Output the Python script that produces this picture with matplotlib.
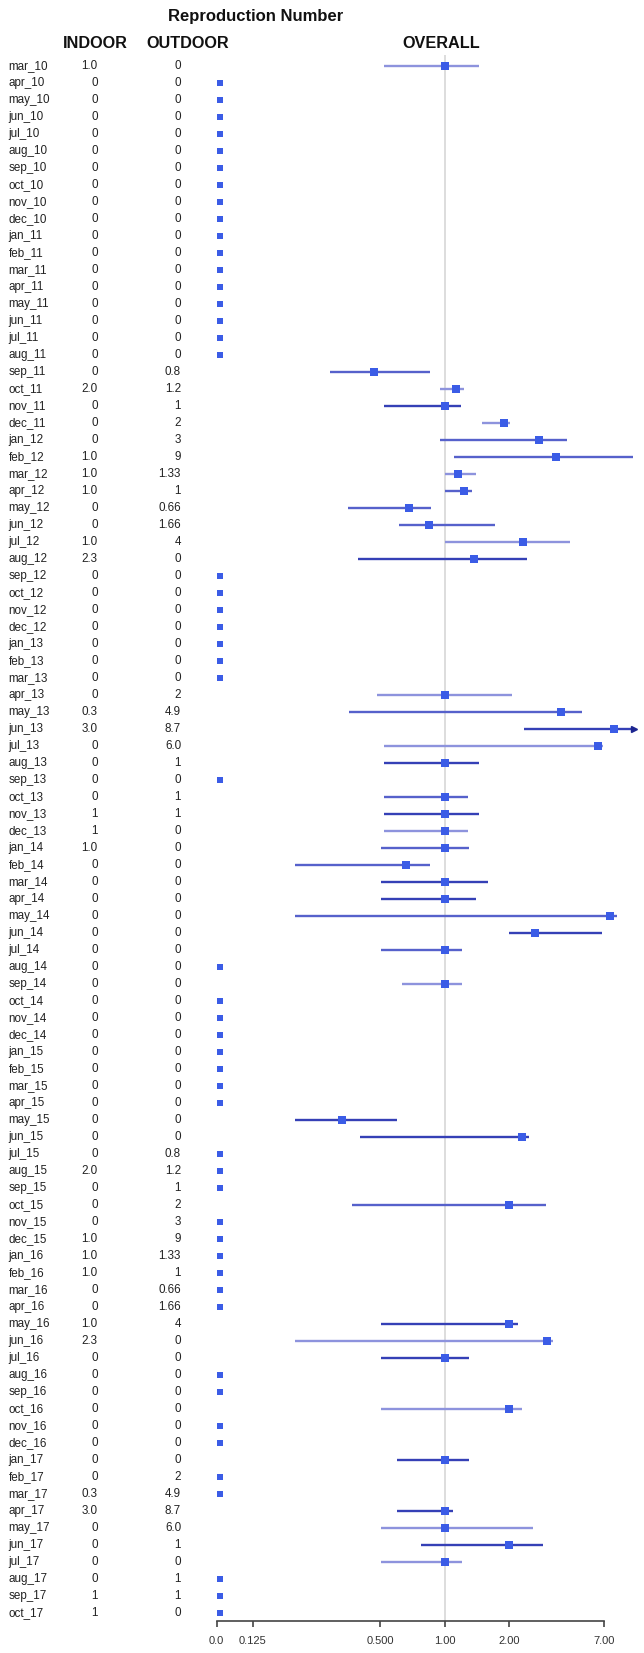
import matplotlib
matplotlib.use("Agg")
import matplotlib.pyplot as plt
import numpy as np
from matplotlib import font_manager
from matplotlib.transforms import blended_transform_factory

W, H = 644, 1653

MONTHS = [
    "mar_10", "apr_10", "may_10", "jun_10", "jul_10", "aug_10", "sep_10", "oct_10", "nov_10", "dec_10",
    "jan_11", "feb_11", "mar_11", "apr_11", "may_11", "jun_11", "jul_11", "aug_11", "sep_11", "oct_11", "nov_11", "dec_11",
    "jan_12", "feb_12", "mar_12", "apr_12", "may_12", "jun_12", "jul_12", "aug_12", "sep_12", "oct_12", "nov_12", "dec_12",
    "jan_13", "feb_13", "mar_13", "apr_13", "may_13", "jun_13", "jul_13", "aug_13", "sep_13", "oct_13", "nov_13", "dec_13",
    "jan_14", "feb_14", "mar_14", "apr_14", "may_14", "jun_14", "jul_14", "aug_14", "sep_14", "oct_14", "nov_14", "dec_14",
    "jan_15", "feb_15", "mar_15", "apr_15", "may_15", "jun_15", "jul_15", "aug_15", "sep_15", "oct_15", "nov_15", "dec_15",
    "jan_16", "feb_16", "mar_16", "apr_16", "may_16", "jun_16", "jul_16", "aug_16", "sep_16", "oct_16", "nov_16", "dec_16",
    "jan_17", "feb_17", "mar_17", "apr_17", "may_17", "jun_17", "jul_17", "aug_17", "sep_17", "oct_17",
]

INDOOR = [
    "1.0", "0", "0", "0", "0", "0", "0", "0", "0", "0",
    "0", "0", "0", "0", "0", "0", "0", "0", "0", "2.0", "0", "0",
    "0", "1.0", "1.0", "1.0", "0", "0", "1.0", "2.3", "0", "0", "0", "0",
    "0", "0", "0", "0", "0.3", "3.0", "0", "0", "0", "0", "1", "1",
    "1.0", "0", "0", "0", "0", "0", "0", "0", "0", "0", "0", "0",
    "0", "0", "0", "0", "0", "0", "0", "2.0", "0", "0", "0", "1.0",
    "1.0", "1.0", "0", "0", "1.0", "2.3", "0", "0", "0", "0", "0", "0",
    "0", "0", "0.3", "3.0", "0", "0", "0", "0", "1", "1",
]

OUTDOOR = [
    "0", "0", "0", "0", "0", "0", "0", "0", "0", "0",
    "0", "0", "0", "0", "0", "0", "0", "0", "0.8", "1.2", "1", "2",
    "3", "9", "1.33", "1", "0.66", "1.66", "4", "0", "0", "0", "0", "0",
    "0", "0", "0", "2", "4.9", "8.7", "6.0", "1", "0", "1", "1", "0",
    "0", "0", "0", "0", "0", "0", "0", "0", "0", "0", "0", "0",
    "0", "0", "0", "0", "0", "0", "0.8", "1.2", "1", "2", "3", "9",
    "1.33", "1", "0.66", "1.66", "4", "0", "0", "0", "0", "0", "0", "0",
    "0", "2", "4.9", "8.7", "6.0", "1", "0", "1", "1", "0",
]

nan = np.nan
# overall estimate with lower / upper interval (0 = no estimate, drawn at the 0.0 mark)
OVERALL = [
    1.0, 0, 0, 0, 0, 0, 0, 0, 0, 0,
    0, 0, 0, 0, 0, 0, 0, 0, 0.466, 1.13, 1.0, 1.90,
    2.78, 3.34, 1.16, 1.23, 0.68, 0.845, 2.34, 1.38, 0, 0, 0, 0,
    0, 0, 0, 1.0, 3.53, 6.27, 5.27, 1.0, 0, 1.0, 1.0, 1.0,
    1.0, 0.66, 1.0, 1.0, 6.0, 2.65, 1.0, 0, 1.0, 0, 0, 0,
    0, 0, 0, 0, 0.328, 2.32, 0, 0, 0, 2.0, 0, 0,
    0, 0, 0, 0, 2.0, 3.03, 1.0, 0, 0, 2.0, 0, 0,
    1.0, 0, 0, 1.0, 1.0, 2.0, 1.0, 0, 0, 0,
]
LOWER = [
    0.52, nan, nan, nan, nan, nan, nan, nan, nan, nan,
    nan, nan, nan, nan, nan, nan, nan, nan, 0.289, 0.95, 0.52, 1.50,
    0.95, 1.11, 1.0, 1.0, 0.35, 0.61, 1.0, 0.39, nan, nan, nan, nan,
    nan, nan, nan, 0.48, 0.355, 2.35, 0.52, 0.52, nan, 0.52, 0.52, 0.52,
    0.50, 0.198, 0.50, 0.50, 0.198, 2.0, 0.50, nan, 0.63, nan, nan, nan,
    nan, nan, nan, nan, 0.198, 0.40, nan, nan, nan, 0.366, nan, nan,
    nan, nan, nan, nan, 0.50, 0.198, 0.50, nan, nan, 0.50, nan, nan,
    0.594, nan, nan, 0.594, 0.50, 0.773, 0.50, nan, nan, nan,
]
UPPER = [
    1.45, nan, nan, nan, nan, nan, nan, nan, nan, nan,
    nan, nan, nan, nan, nan, nan, nan, nan, 0.852, 1.23, 1.19, 2.02,
    3.75, 7.7, 1.40, 1.35, 0.86, 1.72, 3.90, 2.44, nan, nan, nan, nan,
    nan, nan, nan, 2.07, 4.41, 12.0, 5.56, 1.45, nan, 1.29, 1.45, 1.29,
    1.30, 0.85, 1.60, 1.41, 6.44, 5.51, 1.21, nan, 1.21, nan, nan, nan,
    nan, nan, nan, nan, 0.597, 2.50, nan, nan, nan, 3.01, nan, nan,
    nan, nan, nan, nan, 2.21, 3.22, 1.30, nan, nan, 2.31, nan, nan,
    1.30, nan, nan, 1.09, 2.61, 2.89, 1.21, nan, nan, nan,
]

TICK_LABELS = ["0.0", "0.125", "0.500", "1.00", "2.00", "7.00"]

# interval line shades
LIGHT_ROWS = {"mar_10", "oct_11", "dec_11", "mar_12", "jul_12", "apr_13", "jul_13", "dec_13",
              "sep_14", "jun_16", "oct_16", "may_17", "jul_17"}
MEDIUM_ROWS = {"sep_11", "jan_12", "feb_12", "apr_12", "may_12", "jun_12", "may_13", "oct_13",
               "jan_14", "feb_14", "may_14", "jul_14", "oct_15"}

names = {f.name for f in font_manager.fontManager.ttflist}
HEAD_FONT = "Liberation Sans Narrow" if "Liberation Sans Narrow" in names else "Liberation Sans"
HEAD_SIZE = 14 if HEAD_FONT == "Liberation Sans Narrow" else 11.7
BODY_FONT = "Liberation Sans"

# log2 axis: 1.00 sits at x=444.7 px, 64 px per doubling
PX_ONE, PX_DOUBLE = 444.7, 64.0


def px_to_val(px):
    return 2 ** ((px - PX_ONE) / PX_DOUBLE)


ZERO_AT = px_to_val(220)
CLIP = px_to_val(634)
TICK_POS = [px_to_val(p) for p in (216.7, 252.7, 380.3, 444.7, 509.3, 604.3)]

ROW0, ROWSTEP = 65.7, 17.0
AX_L, AX_R, AX_T, AX_B = 200, 640, 55, 1621

fig = plt.figure(figsize=(W / 100, H / 100), dpi=100)
ax = fig.add_axes([AX_L / W, 1 - AX_B / H, (AX_R - AX_L) / W, (AX_B - AX_T) / H])
ax.set_xscale("log", base=2)
ax.set_xlim(px_to_val(AX_L), px_to_val(AX_R))
ax.set_ylim((AX_B - ROW0) / ROWSTEP, (AX_T - ROW0) / ROWSTEP)

ax.axvline(1.0, color="#dadada", lw=1.3, zorder=0)

rows = np.arange(len(MONTHS))
est = np.array(OVERALL, dtype=float)
lo = np.array(LOWER, dtype=float)
hi = np.array(UPPER, dtype=float)

for i, m in enumerate(MONTHS):
    if np.isnan(lo[i]):
        continue
    if m in LIGHT_ROWS:
        c = "#8d93dd"
    elif m in MEDIUM_ROWS:
        c = "#5661cb"
    else:
        c = "#3540b6"
    right = min(hi[i], CLIP)
    ax.plot([lo[i], right], [i, i], color=c, lw=1.7, solid_capstyle="butt", zorder=2)
    if hi[i] > CLIP:
        ax.plot(CLIP, i, marker=">", color="#1c2590", markersize=4, zorder=3)

has_ci = ~np.isnan(lo)
ax.plot(est[has_ci], rows[has_ci], "s", color="#3b5ce6", markersize=5.2, mew=0, zorder=4)
zero = est == 0
ax.plot(np.full(zero.sum(), ZERO_AT), rows[zero], "s", color="#3b5ce6", markersize=4.2, mew=0, zorder=4)

for s in ("left", "right", "top"):
    ax.spines[s].set_visible(False)
ax.spines["bottom"].set_bounds(TICK_POS[0], TICK_POS[-1])
ax.spines["bottom"].set_color("#444444")
ax.spines["bottom"].set_linewidth(1.2)
ax.set_yticks([])
ax.set_xticks(TICK_POS)
ax.set_xticklabels(TICK_LABELS)
ax.xaxis.set_minor_locator(matplotlib.ticker.NullLocator())
ax.tick_params(axis="x", length=4, width=1.2, color="#444444", pad=7,
               labelsize=8, labelcolor="#333333")
for lab in ax.get_xticklabels():
    lab.set_family(BODY_FONT)

tr = blended_transform_factory(fig.transFigure, ax.transData)
for i, m in enumerate(MONTHS):
    ax.text(8.5 / W, i, m, transform=tr, ha="left", va="center", fontsize=8.4,
            family=BODY_FONT, color="#222222", clip_on=False)
    ax.text(97.5 / W, i, INDOOR[i], transform=tr, ha="right", va="center", fontsize=8.4,
            family=BODY_FONT, color="#222222", clip_on=False)
    ax.text(181 / W, i, OUTDOOR[i], transform=tr, ha="right", va="center", fontsize=8.4,
            family=BODY_FONT, color="#222222", clip_on=False)

head = dict(ha="center", va="center", fontweight="bold", family=HEAD_FONT, color="#111111")
fig.text(256 / W, 1 - 16 / H, "Reproduction Number", fontsize=HEAD_SIZE + 0.3, **head)
fig.text(95 / W, 1 - 43 / H, "INDOOR", fontsize=HEAD_SIZE, **head)
fig.text(187.5 / W, 1 - 43 / H, "OUTDOOR", fontsize=HEAD_SIZE, **head)
fig.text(441 / W, 1 - 43 / H, "OVERALL", fontsize=HEAD_SIZE, **head)

fig.savefig("out.png", dpi=100)
